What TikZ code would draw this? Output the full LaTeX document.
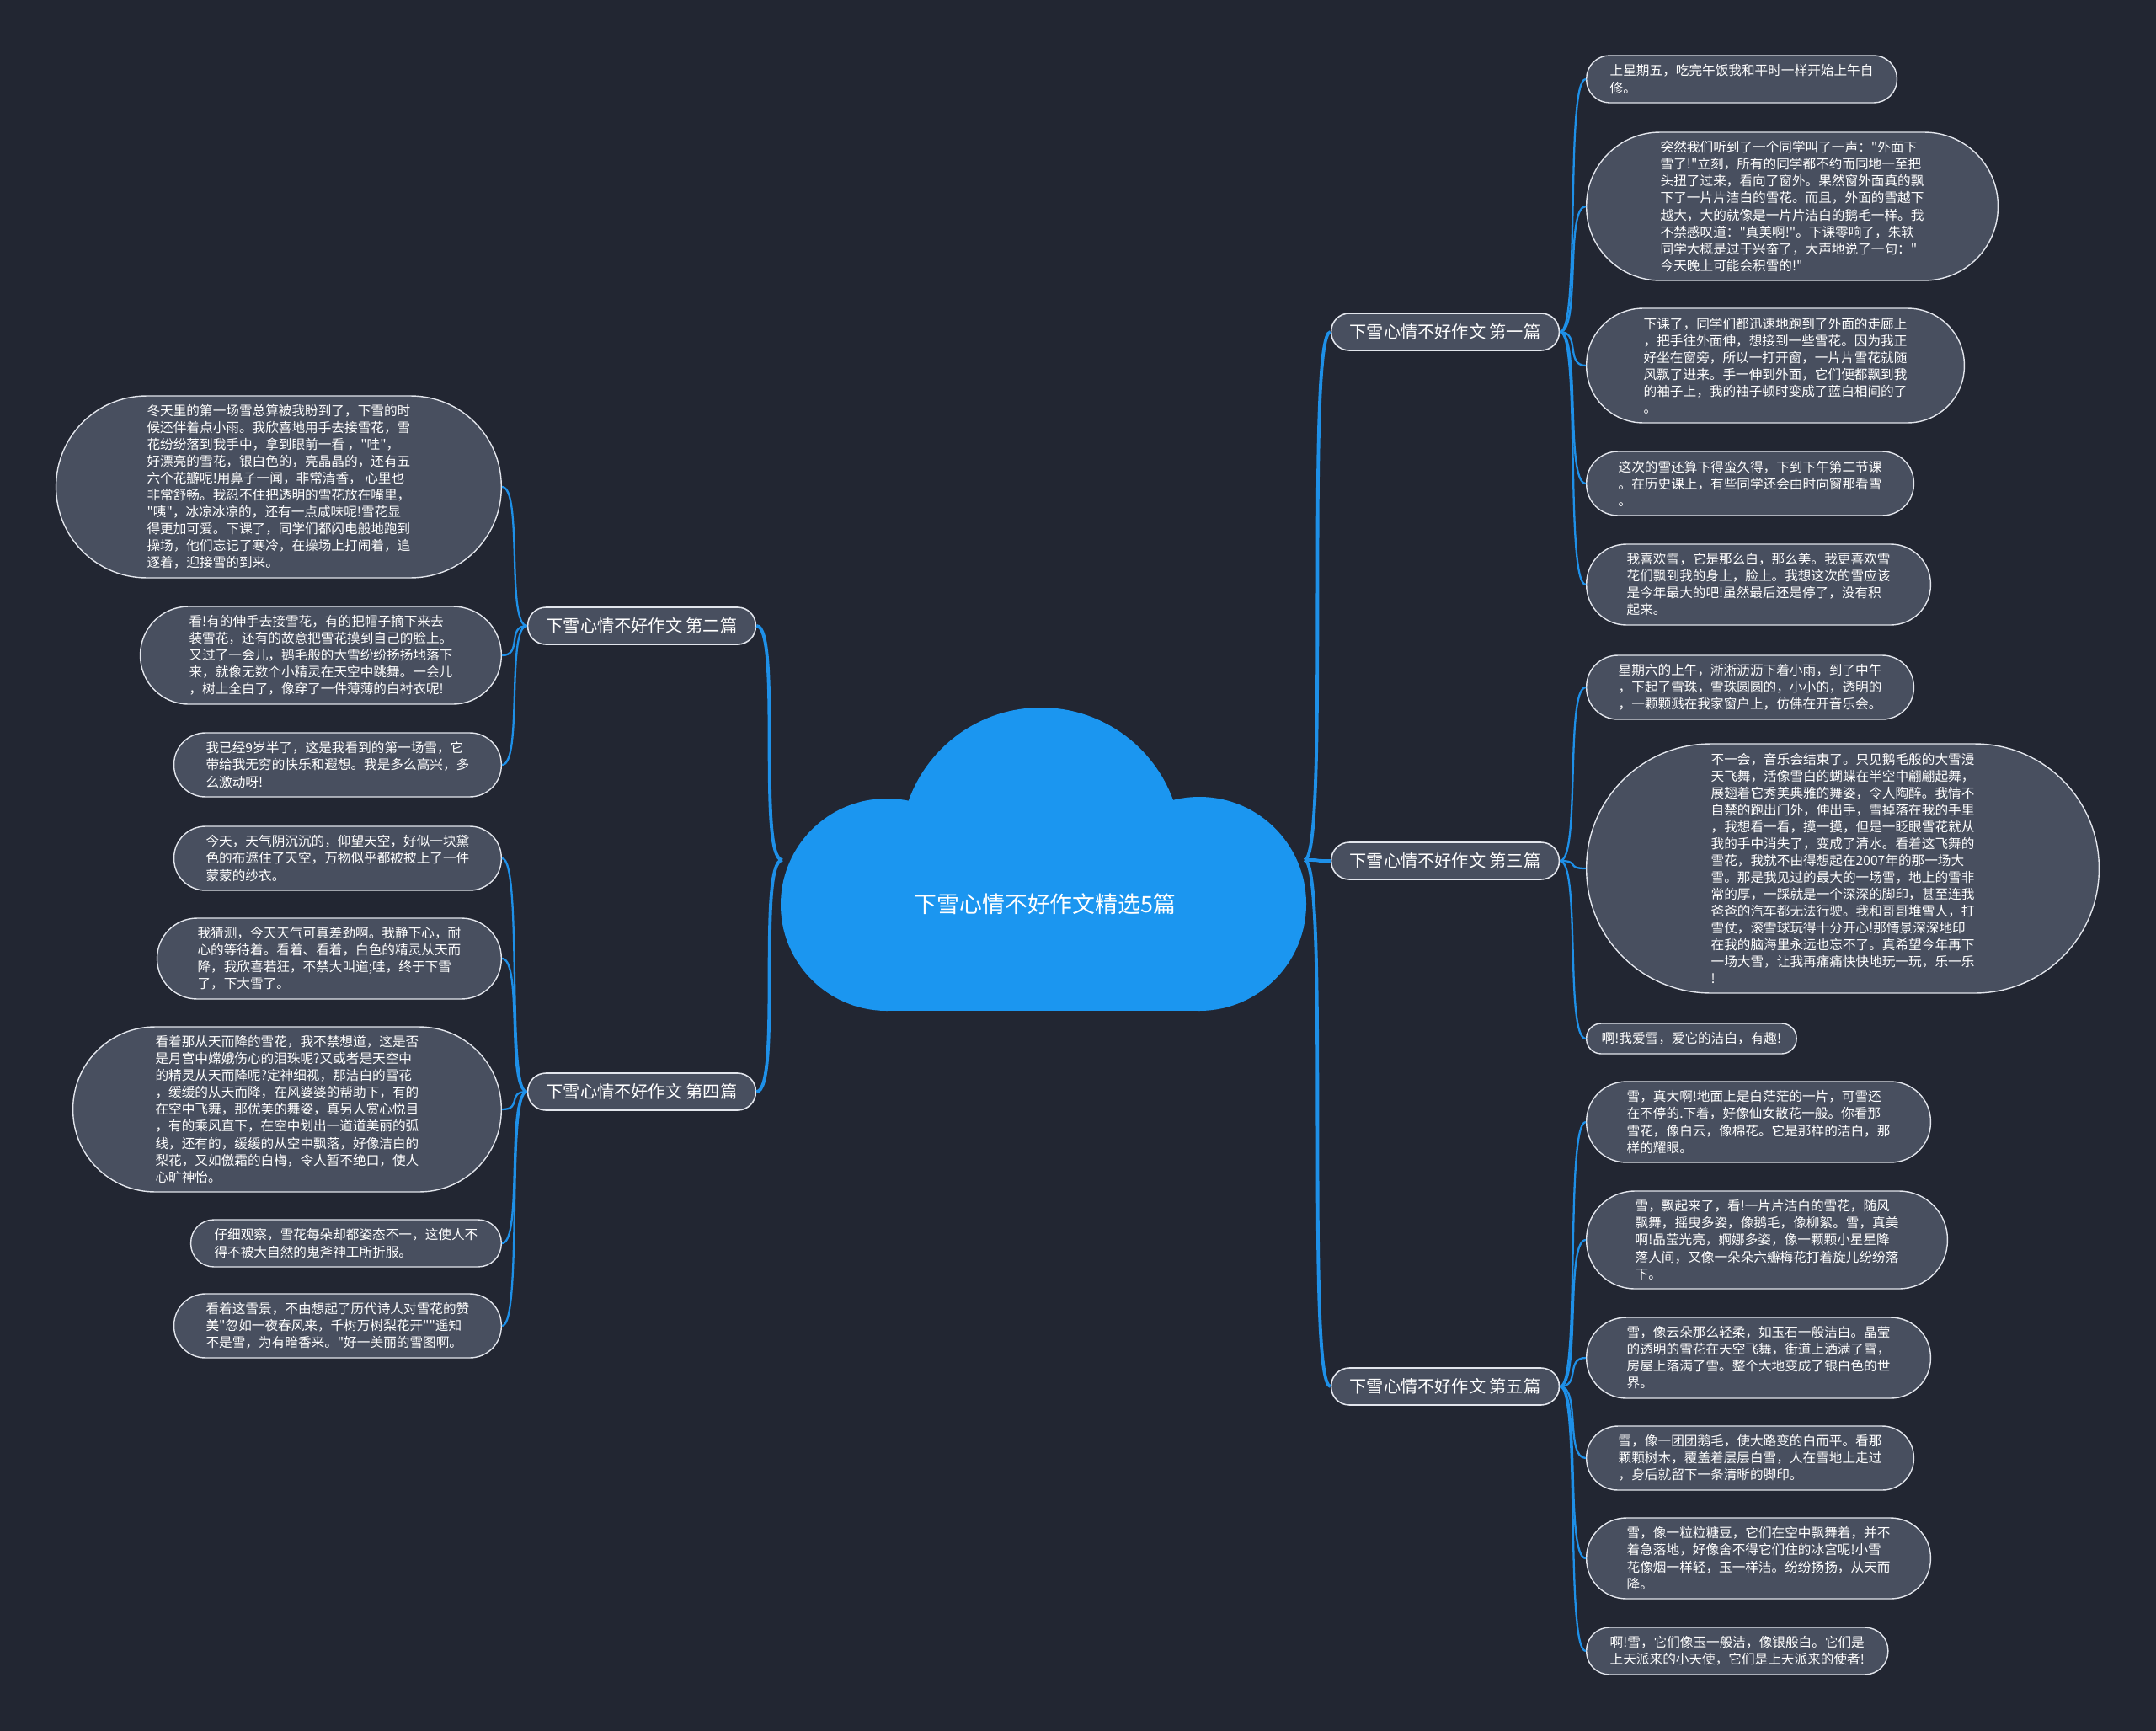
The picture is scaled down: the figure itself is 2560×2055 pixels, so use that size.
\documentclass[tikz,border=0pt]{standalone}
\usepackage{fontspec}
\newfontfamily\zhfont{Noto Sans CJK SC}
\definecolor{bgnight}{RGB}{34,38,50}
\definecolor{pillgrey}{RGB}{72,79,95}
\definecolor{edgegrey}{RGB}{226,229,236}
\definecolor{linkblue}{RGB}{30,144,232}
\definecolor{cloudblue}{RGB}{27,150,240}

\begin{document}
\begin{tikzpicture}[
    x=0.02cm, y=-0.02cm,
    topic/.style={
        rectangle, rounded corners=0.43cm, draw=edgegrey, line width=0.9pt, fill=pillgrey,
        text=white, font=\zhfont\fontsize{11.5}{14}\selectfont,
        inner xsep=0.44cm, minimum height=0.88cm
    },
    leaf/.style={
        rectangle, draw=edgegrey, line width=0.8pt, fill=pillgrey,
        text=white, font=\zhfont\fontsize{8.9}{11.4}\selectfont, align=left,
        minimum height=0.4cm*#1+0.32cm, rounded corners=0.2cm*#1+0.15cm,
        inner xsep=0.2cm*#1+0.16cm
    },
    trunk/.style={draw=linkblue, line width=2.2pt, distance=0.6cm},
    twig/.style={draw=linkblue, line width=1.3pt, distance=0.5cm}
]
\path[use as bounding box, fill=bgnight] (0,0) rectangle (2560,2055);

% === Cloud with title ===
\fill[cloudblue] (1236,1007) circle (167);
\fill[cloudblue] (1053,1074) circle (126);
\fill[cloudblue] (1424,1073) circle (127);
\fill[cloudblue] (1053,1000) rectangle (1424,1200);
\node[text=white, font=\zhfont\fontsize{15.3}{18}\selectfont] (root) at (1241,1073) {下雪心情不好作文精选5篇};
\coordinate (rootE) at (1549,1021);
\coordinate (rootW) at (929,1021);

% === Topics ===
\node[topic] (b1) at (1716,394) {下雪心情不好作文 第一篇};
\node[topic] (b3) at (1716,1022) {下雪心情不好作文 第三篇};
\node[topic] (b5) at (1716,1646) {下雪心情不好作文 第五篇};
\node[topic] (b2) at (762,743) {下雪心情不好作文 第二篇};
\node[topic] (b4) at (762,1296) {下雪心情不好作文 第四篇};

% === Part 1 (right) ===
\node[leaf=2, anchor=west] (r1a) at (1883,94) {上星期五，吃完午饭我和平时一样开始上午自\\修。};
\node[leaf=8, anchor=west] (r1b) at (1883,245) {突然我们听到了一个同学叫了一声："外面下\\雪了!"立刻，所有的同学都不约而同地一至把\\头扭了过来，看向了窗外。果然窗外面真的飘\\下了一片片洁白的雪花。而且，外面的雪越下\\越大，大的就像是一片片洁白的鹅毛一样。我\\不禁感叹道："真美啊!"。下课零响了，朱轶\\同学大概是过于兴奋了，大声地说了一句："\\今天晚上可能会积雪的!"};
\node[leaf=6, anchor=west] (r1c) at (1883,434) {下课了，同学们都迅速地跑到了外面的走廊上\\，把手往外面伸，想接到一些雪花。因为我正\\好坐在窗旁，所以一打开窗，一片片雪花就随\\风飘了进来。手一伸到外面，它们便都飘到我\\的袖子上，我的袖子顿时变成了蓝白相间的了\\。};
\node[leaf=3, anchor=west] (r1d) at (1883,574) {这次的雪还算下得蛮久得，下到下午第二节课\\。在历史课上，有些同学还会由时向窗那看雪\\。};
\node[leaf=4, anchor=west] (r1e) at (1883,694) {我喜欢雪，它是那么白，那么美。我更喜欢雪\\花们飘到我的身上，脸上。我想这次的雪应该\\是今年最大的吧!虽然最后还是停了，没有积\\起来。};

% === Part 3 (right) ===
\node[leaf=3, anchor=west] (r3a) at (1883,816) {星期六的上午，淅淅沥沥下着小雨，到了中午\\，下起了雪珠，雪珠圆圆的，小小的，透明的\\，一颗颗溅在我家窗户上，仿佛在开音乐会。};
\node[leaf=14, anchor=west] (r3b) at (1883,1031) {不一会，音乐会结束了。只见鹅毛般的大雪漫\\天飞舞，活像雪白的蝴蝶在半空中翩翩起舞，\\展翅着它秀美典雅的舞姿，令人陶醉。我情不\\自禁的跑出门外，伸出手，雪掉落在我的手里\\，我想看一看，摸一摸，但是一眨眼雪花就从\\我的手中消失了，变成了清水。看着这飞舞的\\雪花，我就不由得想起在2007年的那一场大\\雪。那是我见过的最大的一场雪，地上的雪非\\常的厚，一踩就是一个深深的脚印，甚至连我\\爸爸的汽车都无法行驶。我和哥哥堆雪人，打\\雪仗，滚雪球玩得十分开心!那情景深深地印\\在我的脑海里永远也忘不了。真希望今年再下\\一场大雪，让我再痛痛快快地玩一玩，乐一乐\\!};
\node[leaf=1, anchor=west] (r3c) at (1883,1233) {啊!我爱雪，爱它的洁白，有趣!};

% === Part 5 (right) ===
\node[leaf=4, anchor=west] (r5a) at (1883,1332) {雪，真大啊!地面上是白茫茫的一片，可雪还\\在不停的.下着，好像仙女散花一般。你看那\\雪花，像白云，像棉花。它是那样的洁白，那\\样的耀眼。};
\node[leaf=5, anchor=west] (r5b) at (1883,1472) {雪，飘起来了，看!一片片洁白的雪花，随风\\飘舞，摇曳多姿，像鹅毛，像柳絮。雪，真美\\啊!晶莹光亮，婀娜多姿，像一颗颗小星星降\\落人间，又像一朵朵六瓣梅花打着旋儿纷纷落\\下。};
\node[leaf=4, anchor=west] (r5c) at (1883,1612) {雪，像云朵那么轻柔，如玉石一般洁白。晶莹\\的透明的雪花在天空飞舞，街道上洒满了雪，\\房屋上落满了雪。整个大地变成了银白色的世\\界。};
\node[leaf=3, anchor=west] (r5d) at (1883,1731) {雪，像一团团鹅毛，使大路变的白而平。看那\\颗颗树木，覆盖着层层白雪，人在雪地上走过\\，身后就留下一条清晰的脚印。};
\node[leaf=4, anchor=west] (r5e) at (1883,1850) {雪，像一粒粒糖豆，它们在空中飘舞着，并不\\着急落地，好像舍不得它们住的冰宫呢!小雪\\花像烟一样轻，玉一样洁。纷纷扬扬，从天而\\降。};
\node[leaf=2, anchor=west] (r5f) at (1883,1960) {啊!雪，它们像玉一般洁，像银般白。它们是\\上天派来的小天使，它们是上天派来的使者!};

% === Part 2 (left) ===
\node[leaf=10, anchor=east] (l2a) at (596,578) {冬天里的第一场雪总算被我盼到了，下雪的时\\候还伴着点小雨。我欣喜地用手去接雪花，雪\\花纷纷落到我手中，拿到眼前一看 ，"哇"，\\好漂亮的雪花，银白色的，亮晶晶的，还有五\\六个花瓣呢!用鼻子一闻，非常清香， 心里也\\非常舒畅。我忍不住把透明的雪花放在嘴里，\\"咦"，冰凉冰凉的，还有一点咸味呢!雪花显\\得更加可爱。下课了，同学们都闪电般地跑到\\操场，他们忘记了寒冷，在操场上打闹着，追\\逐着，迎接雪的到来。};
\node[leaf=5, anchor=east] (l2b) at (596,778) {看!有的伸手去接雪花，有的把帽子摘下来去\\装雪花，还有的故意把雪花摸到自己的脸上。\\又过了一会儿，鹅毛般的大雪纷纷扬扬地落下\\来，就像无数个小精灵在天空中跳舞。一会儿\\，树上全白了，像穿了一件薄薄的白衬衣呢!};
\node[leaf=3, anchor=east] (l2c) at (596,908) {我已经9岁半了，这是我看到的第一场雪，它\\带给我无穷的快乐和遐想。我是多么高兴，多\\么激动呀!};

% === Part 4 (left) ===
\node[leaf=3, anchor=east] (l4a) at (596,1019) {今天，天气阴沉沉的，仰望天空，好似一块黛\\色的布遮住了天空，万物似乎都被披上了一件\\蒙蒙的纱衣。};
\node[leaf=4, anchor=east] (l4b) at (596,1138) {我猜测，今天天气可真差劲啊。我静下心，耐\\心的等待着。看着、看着，白色的精灵从天而\\降，我欣喜若狂，不禁大叫道;哇，终于下雪\\了，下大雪了。};
\node[leaf=9, anchor=east] (l4c) at (596,1317) {看着那从天而降的雪花，我不禁想道，这是否\\是月宫中嫦娥伤心的泪珠呢?又或者是天空中\\的精灵从天而降呢?定神细视，那洁白的雪花\\，缓缓的从天而降，在风婆婆的帮助下，有的\\在空中飞舞，那优美的舞姿，真另人赏心悦目\\，有的乘风直下，在空中划出一道道美丽的弧\\线，还有的，缓缓的从空中飘落，好像洁白的\\梨花，又如傲霜的白梅，令人暂不绝口，使人\\心旷神怡。};
\node[leaf=2, anchor=east] (l4d) at (596,1476) {仔细观察，雪花每朵却都姿态不一，这使人不\\得不被大自然的鬼斧神工所折服。};
\node[leaf=3, anchor=east] (l4e) at (596,1574) {看着这雪景，不由想起了历代诗人对雪花的赞\\美"忽如一夜春风来，千树万树梨花开""遥知\\不是雪，为有暗香来。"好一美丽的雪图啊。};

% === Root -> topics ===
\draw[trunk] (rootE) to[out=0, in=180] (b1.west);
\draw[trunk] (rootE) to[out=0, in=180] (b3.west);
\draw[trunk] (rootE) to[out=0, in=180] (b5.west);
\draw[trunk] (rootW) to[out=180, in=0] (b2.east);
\draw[trunk] (rootW) to[out=180, in=0] (b4.east);

% === Topics -> leaves ===
\foreach \leafname in {r1a, r1b, r1c, r1d, r1e}
    \draw[twig] (b1.east) to[out=0, in=180] (\leafname.west);
\foreach \leafname in {r3a, r3b, r3c}
    \draw[twig] (b3.east) to[out=0, in=180] (\leafname.west);
\foreach \leafname in {r5a, r5b, r5c, r5d, r5e, r5f}
    \draw[twig] (b5.east) to[out=0, in=180] (\leafname.west);
\foreach \leafname in {l2a, l2b, l2c}
    \draw[twig] (b2.west) to[out=180, in=0] (\leafname.east);
\foreach \leafname in {l4a, l4b, l4c, l4d, l4e}
    \draw[twig] (b4.west) to[out=180, in=0] (\leafname.east);

\end{tikzpicture}
\end{document}
